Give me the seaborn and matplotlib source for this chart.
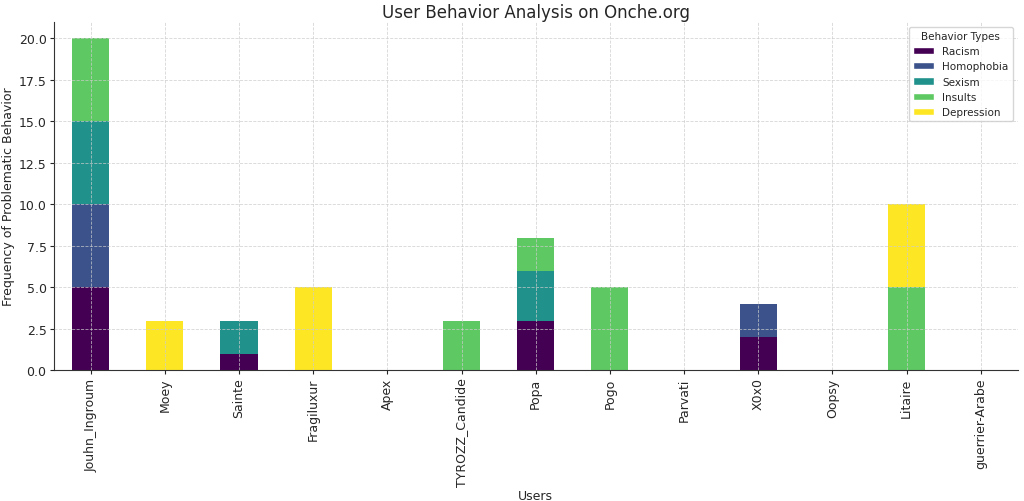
import matplotlib
matplotlib.use("Agg")
import matplotlib.pyplot as plt
import seaborn as sns
import numpy as np
import pandas as pd
from matplotlib.patches import Patch

users = ["Jouhn_Ingroum", "Moey", "Sainte", "Fragiluxur", "Apex", "TYROZZ_Candide",
         "Popa", "Pogo", "Parvati", "X0x0", "Oopsy", "Litaire", "guerrier-Arabe"]
behaviors = ["Racism", "Homophobia", "Sexism", "Insults", "Depression"]
racism     = [5, 0, 1, 0, 0, 0, 3, 0, 0, 2, 0, 0, 0]
homophobia = [5, 0, 0, 0, 0, 0, 0, 0, 0, 2, 0, 0, 0]
sexism     = [5, 0, 2, 0, 0, 0, 3, 0, 0, 0, 0, 0, 0]
insults    = [5, 0, 0, 0, 0, 3, 2, 5, 0, 0, 0, 5, 0]
depression = [0, 3, 0, 5, 0, 0, 0, 0, 0, 0, 0, 5, 0]

series = [racism, homophobia, sexism, insults, depression]
colors = [matplotlib.colormaps["viridis"](v) for v in np.linspace(0, 1, len(behaviors))]

sns.set_style("ticks")
plt.rcParams['font.family'] = ['DejaVu Sans']

fig, ax = plt.subplots(figsize=(10.24, 5.02), dpi=100)
bottom = np.zeros(len(users))
for name, vals, c in zip(behaviors, series, colors):
    df = pd.DataFrame({"user": users, "count": vals})
    sns.barplot(data=df, x="user", y="count", order=users, color=c, width=0.5,
                bottom=bottom.copy(), ax=ax, saturation=1, linewidth=0, errorbar=None)
    bottom += np.array(vals)

ax.set_xlim(-0.5, len(users) - 0.5)
ax.set_ylim(0, 21)
ax.set_yticks(np.arange(0, 20.01, 2.5))
ax.set_yticklabels([f"{v:.1f}" for v in np.arange(0, 20.01, 2.5)])
ax.set_axisbelow(False)
ax.grid(True, linestyle="--", linewidth=0.6, color="#cccccc", alpha=0.8)
for s in ["top", "right"]:
    ax.spines[s].set_visible(False)
for s in ["left", "bottom"]:
    ax.spines[s].set_color("#333333")
ax.tick_params(axis="x", rotation=90, labelsize=9, length=3, pad=2)
ax.tick_params(axis="y", labelsize=9, length=3, pad=2)
ax.set_title("User Behavior Analysis on Onche.org", fontsize=12, pad=3)
ax.set_xlabel("Users", fontsize=9, labelpad=2)
ax.set_ylabel("Frequency of Problematic Behavior", fontsize=9, labelpad=3)

handles = [Patch(facecolor=c, label=b) for b, c in zip(behaviors, colors)]
ax.legend(handles=handles, title="Behavior Types", fontsize=7.5, title_fontsize=7.5,
          loc="upper right", frameon=True)

fig.subplots_adjust(left=0.0523, right=0.994, top=0.955, bottom=0.26)
fig.savefig("out.png", dpi=100)
